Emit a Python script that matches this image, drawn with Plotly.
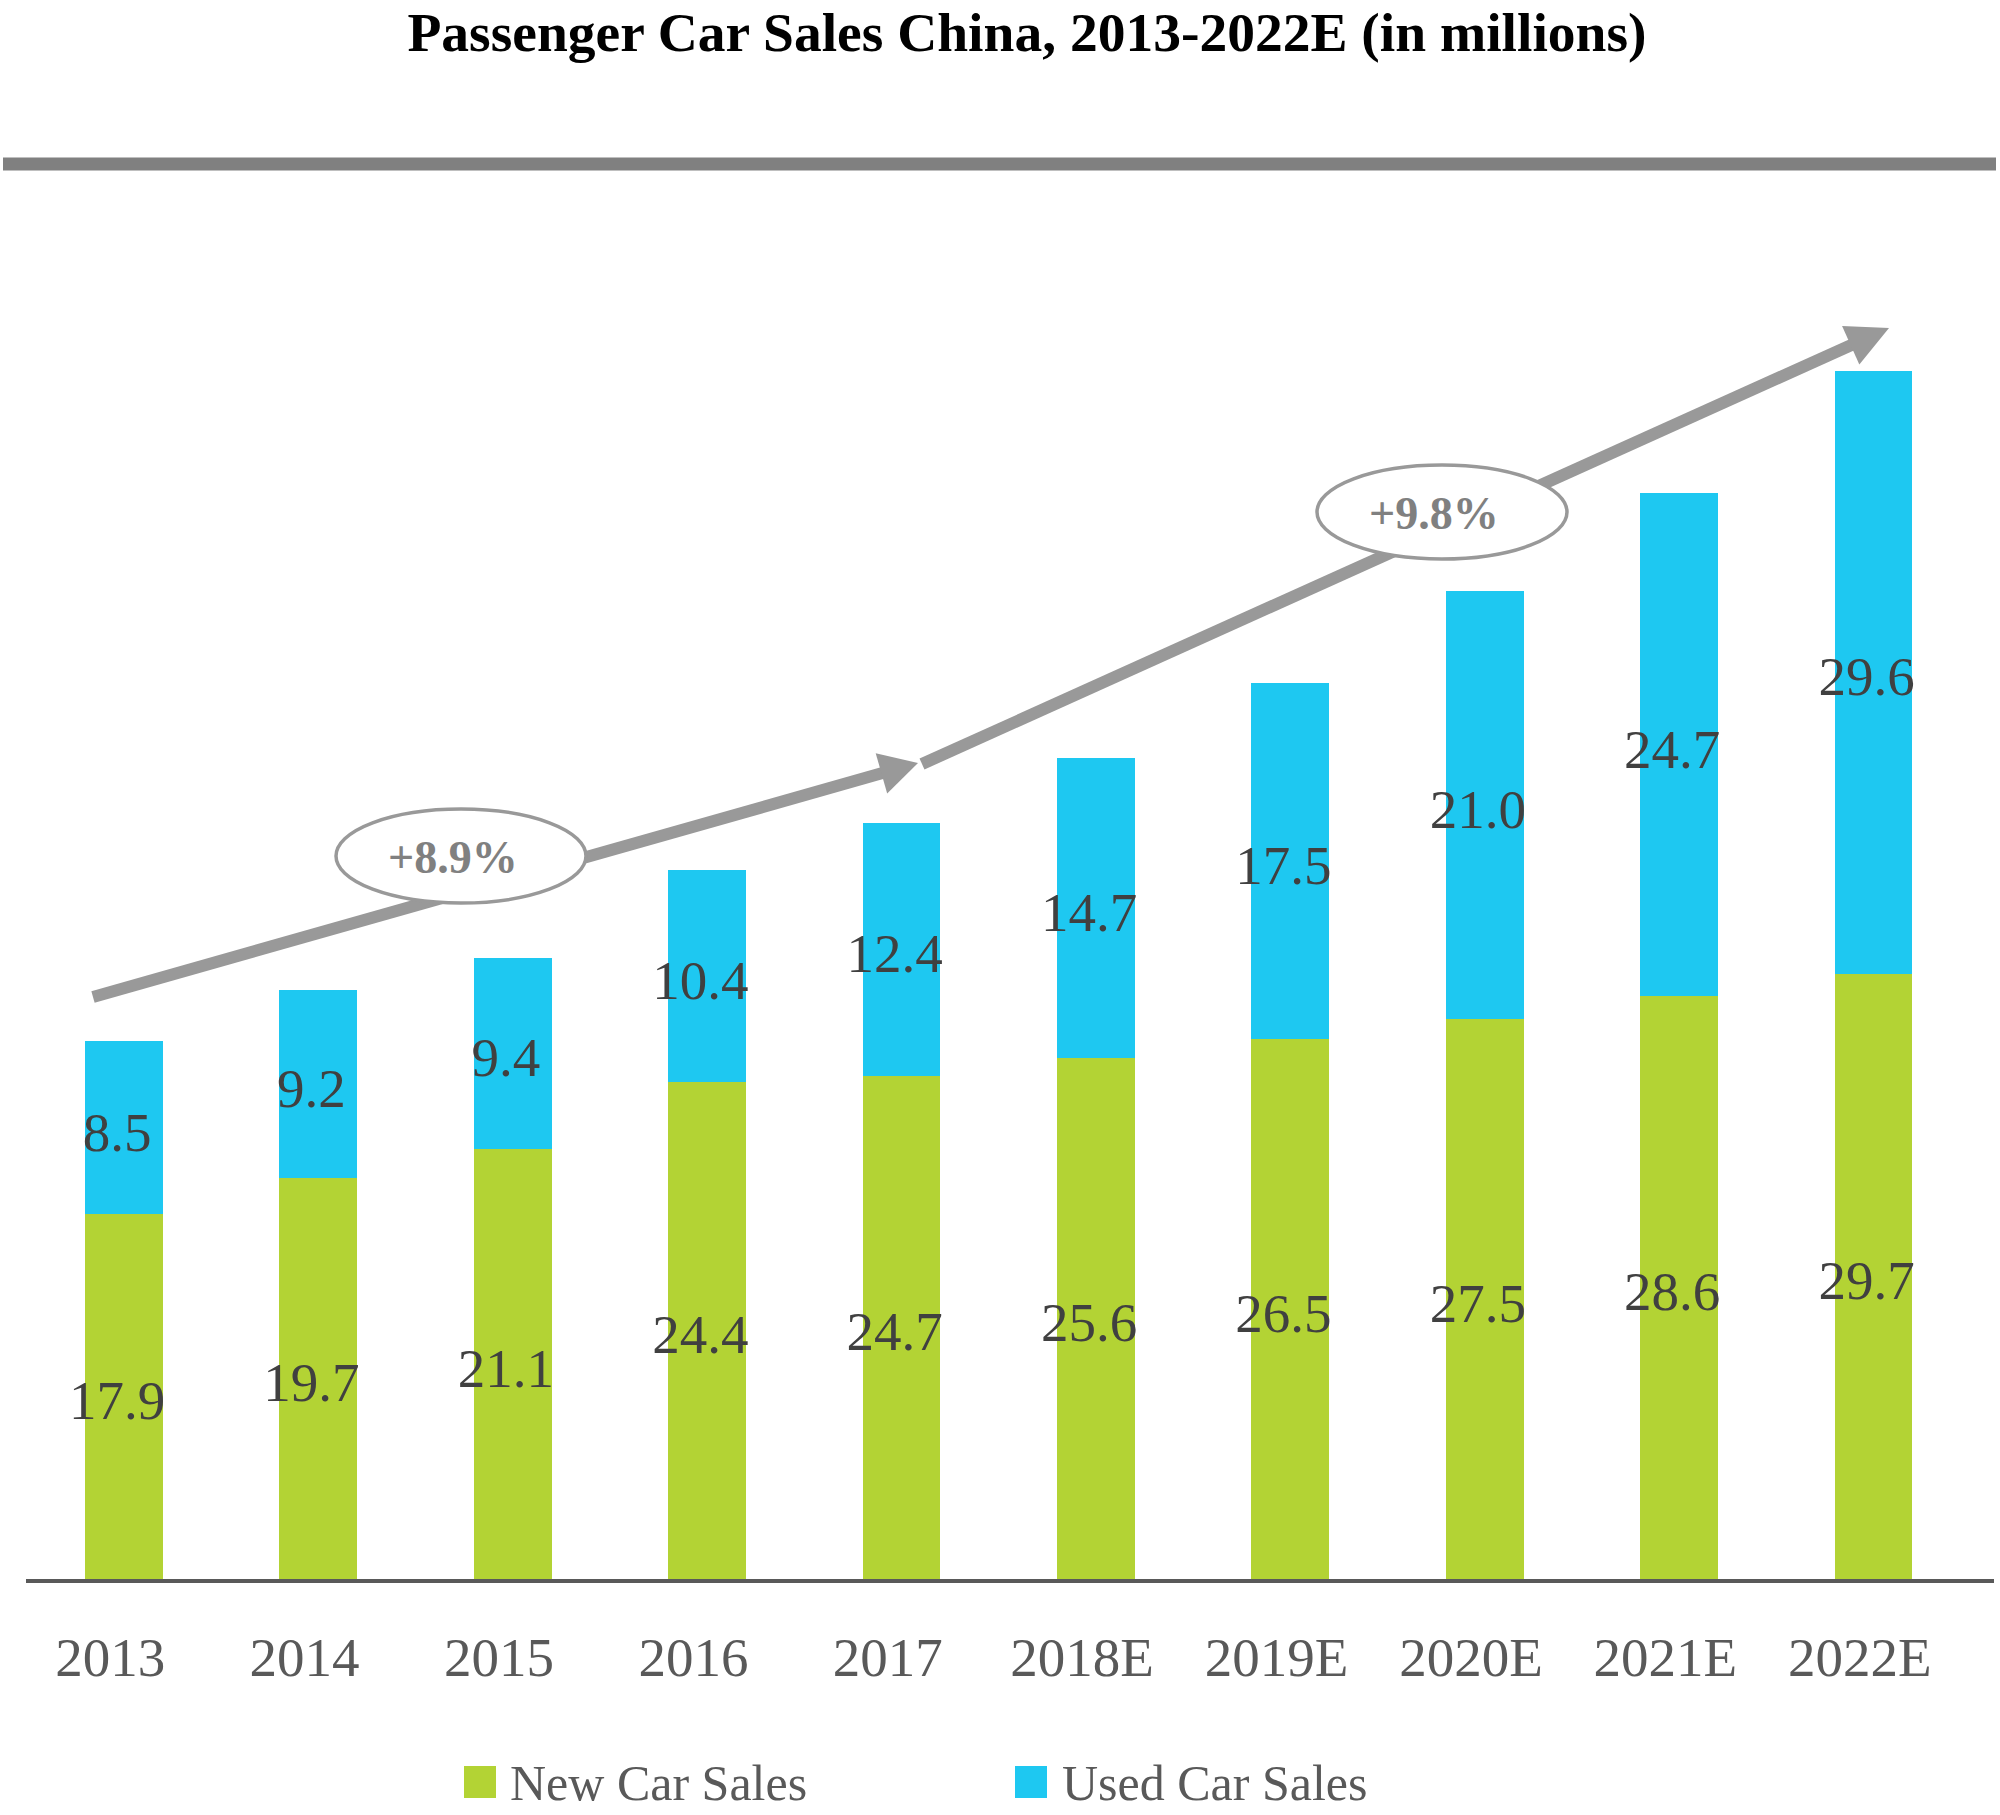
import math
import plotly.graph_objects as go

# ---- data ----
years = ['2013', '2014', '2015', '2016', '2017', '2018E', '2019E', '2020E', '2021E', '2022E']
new_sales = [17.9, 19.7, 21.1, 24.4, 24.7, 25.6, 26.5, 27.5, 28.6, 29.7]
used_sales = [8.5, 9.2, 9.4, 10.4, 12.4, 14.7, 17.5, 21.0, 24.7, 29.6]
cagr_labels = ['+8.9%', '+9.8%']
series_names = ['New Car Sales', 'Used Car Sales']

GREEN = '#B3D334'
BLUE = '#1EC8F1'
SERIF = 'Liberation Serif'

W, H = 2000, 1815
L, R, T, B = 26, 6, 200, 236
PW, PH = W - L - R, H - T - B
PX_PER_UNIT = 20.37
LABEL_DROP = 9 / PX_PER_UNIT  # labels sit slightly below segment centre


def px(x):
    return (x - L) / PW


def py(y):
    return (H - B - y) / PH


fig = go.Figure()
for name, vals, col in [(series_names[0], new_sales, GREEN), (series_names[1], used_sales, BLUE)]:
    fig.add_trace(go.Bar(
        x=years, y=vals, name=name, marker=dict(color=col, line=dict(width=0)),
        textposition='none', showlegend=False, hoverinfo='skip'))

# value labels, centred in each stacked segment
new_mid = [v / 2 - LABEL_DROP for v in new_sales]
used_mid = [n + u / 2 - LABEL_DROP for n, u in zip(new_sales, used_sales)]
for mids, vals in [(new_mid, new_sales), (used_mid, used_sales)]:
    fig.add_trace(go.Scatter(
        x=years, y=mids, mode='text', text=['{:.1f}\u00a0'.format(v) for v in vals],
        textposition='middle center', textfont=dict(family=SERIF, size=55, color='#404040'),
        showlegend=False, hoverinfo='skip'))

shapes = []
# top gray rule
shapes.append(dict(type='line', xref='paper', yref='paper', x0=px(3), x1=px(1996),
                   y0=py(164), y1=py(164), line=dict(color='#808080', width=13), layer='above'))


def arrow(x0, y0, x1, y1, head_len, half_w):
    dx, dy = x1 - x0, y1 - y0
    ln = math.hypot(dx, dy)
    ux, uy = dx / ln, dy / ln
    nx, ny = -uy, ux
    bx, by = x1 - ux * head_len, y1 - uy * head_len
    shapes.append(dict(type='line', xref='paper', yref='paper', x0=px(x0), y0=py(y0),
                       x1=px(bx + ux * 2), y1=py(by + uy * 2),
                       line=dict(color='#999999', width=12), layer='above'))
    p1 = (bx + nx * half_w, by + ny * half_w)
    p2 = (bx - nx * half_w, by - ny * half_w)
    path = 'M {} {} L {} {} L {} {} Z'.format(px(x1), py(y1), px(p1[0]), py(p1[1]), px(p2[0]), py(p2[1]))
    shapes.append(dict(type='path', xref='paper', yref='paper', path=path,
                       fillcolor='#999999', line=dict(width=0), layer='above'))


arrow(93, 997, 918, 763, 38, 21)
arrow(922, 764, 1889, 328, 42, 21)

annotations = []
for (cx, cy), lab in zip([(461, 856), (1442, 512)], cagr_labels):
    shapes.append(dict(type='circle', xref='paper', yref='paper',
                       x0=px(cx - 125), x1=px(cx + 125), y0=py(cy + 47), y1=py(cy - 47),
                       fillcolor='white', line=dict(color='#999999', width=3.5), layer='above'))
    annotations.append(dict(xref='paper', yref='paper', x=px(cx - 8), y=py(cy + 1), text='<b>' + lab + '</b>',
                            showarrow=False, xanchor='center', yanchor='middle',
                            font=dict(family=SERIF, size=46, color='#808080')))

# manual legend
for (sx, tx), name, col in zip([(464, 508), (1015, 1060)], series_names, [GREEN, BLUE]):
    shapes.append(dict(type='rect', xref='paper', yref='paper', x0=px(sx), x1=px(sx + 32),
                       y0=py(1798), y1=py(1766), fillcolor=col, line=dict(width=0)))
    annotations.append(dict(xref='paper', yref='paper', x=px(tx), y=py(1783), text=name,
                            showarrow=False, xanchor='left', yanchor='middle',
                            font=dict(family=SERIF, size=50, color='#595959')))

fig.update_layout(
    width=W, height=H, margin=dict(l=L, r=R, t=T, b=B),
    paper_bgcolor='white', plot_bgcolor='white',
    barmode='stack', bargap=0.6,
    title=dict(text='<b>Passenger Car Sales China, 2013-2022E (in millions)</b>',
               x=1027 / W, xanchor='center', y=1 - 32 / H, yanchor='middle', yref='container',
               font=dict(family=SERIF, size=55.5, color='black')),
    xaxis=dict(range=[-0.504, 9.62], showline=True, linecolor='#595959', linewidth=4,
               showgrid=False, zeroline=False, ticks='', ticklabelstandoff=27,
               tickvals=years, ticktext=[y + '\u00a0\u00a0' for y in years],
               tickfont=dict(family=SERIF, size=55, color='#595959')),
    yaxis=dict(range=[0, PH / PX_PER_UNIT], visible=False, showgrid=False, zeroline=False),
    shapes=shapes, annotations=annotations, showlegend=False,
)

fig.write_html('out.html', config={'displayModeBar': False},
               post_script="document.body.style.margin='0';document.body.style.overflow='hidden';")
